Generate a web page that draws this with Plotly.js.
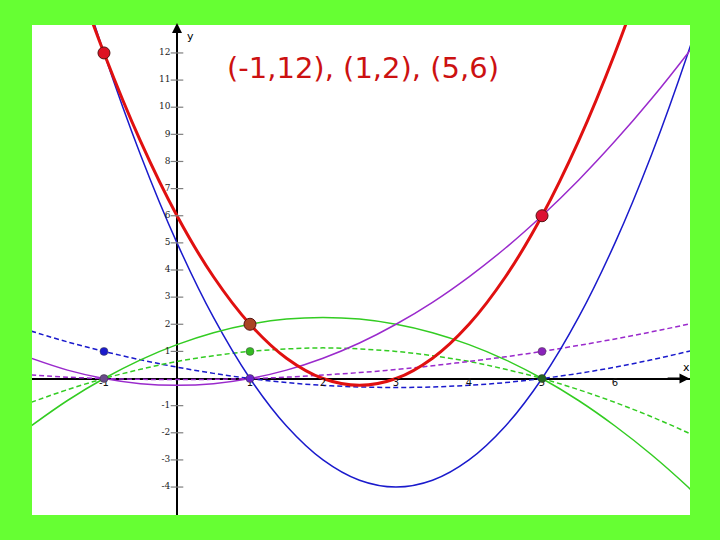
<!DOCTYPE html>
<html>
<head>
<meta charset="utf-8">
<script src="https://cdn.plot.ly/plotly-3.0.1.min.js"></script>
<style>html,body{margin:0;padding:0;background:#66ff33;}</style>
</head>
<body>
<div id="chart" style="width:720px;height:540px;"></div>
<script>
// sample x positions
const xs = [-2, -1.5, -1, -0.5, 0, 0.5, 1, 1.5, 2, 2.5, 3, 3.5, 4, 4.5, 5, 5.5, 6, 6.5, 7, 7.5];
// interpolating parabola through the three points
const redCurve = [20, 15.75, 12, 8.75, 6, 3.75, 2, 0.75, 0, -0.25, 0, 0.75, 2, 3.75, 6, 8.75, 12, 15.75, 20, 24.75];
// weighted basis curves (solid) and basis curves (dashed)
const blueSolid = [21, 16.25, 12, 8.25, 5, 2.25, 0, -1.75, -3, -3.75, -4, -3.75, -3, -1.75, 0, 2.25, 5, 8.25, 12, 16.25];
const blueDash = [1.75, 1.35, 1, 0.69, 0.42, 0.19, 0, -0.15, -0.25, -0.31, -0.33, -0.31, -0.25, -0.15, 0, 0.19, 0.42, 0.69, 1, 1.35];
const greenSolid = [-1.75, -0.81, 0, 0.69, 1.25, 1.69, 2, 2.19, 2.25, 2.19, 2, 1.69, 1.25, 0.69, 0, -0.81, -1.75, -2.81, -4, -5.31];
const greenDash = [-0.88, -0.41, 0, 0.34, 0.63, 0.84, 1, 1.09, 1.13, 1.09, 1, 0.84, 0.63, 0.34, 0, -0.41, -0.88, -1.41, -2, -2.66];
const purpleSolid = [0.75, 0.31, 0, -0.19, -0.25, -0.19, 0, 0.31, 0.75, 1.31, 2, 2.81, 3.75, 4.81, 6, 7.31, 8.75, 10.31, 12, 13.81];
const purpleDash = [0.13, 0.05, 0, -0.03, -0.04, -0.03, 0, 0.05, 0.13, 0.22, 0.33, 0.47, 0.63, 0.8, 1, 1.22, 1.46, 1.72, 2, 2.3];

// data points
const ptX = [-1, 1, 5];
const ptY = [12, 2, 6];
const unitX = [-1, 1, 5];
const unitY = [1, 1, 1];
const unitColors = ['#1a1acc', '#33bb22', '#8a22bb'];
const zeroColors = ['#6a4a8a', '#6a22cc', '#226622'];

// tick labels
const xTickVals = [-1, 1, 2, 3, 4, 5, 6];
const xTickText = ['-1', '1', '2', '3', '4', '5', '6'];
const yTickVals = [12, 11, 10, 9, 8, 7, 6, 5, 4, 3, 2, 1, -1, -2, -3, -4];
const yTickText = ['12', '11', '10', '9', '8', '7', '6', '5', '4', '3', '2', '1', '-1', '-2', '-3', '-4'];

const titleText = '(-1,12), (1,2), (5,6)';

const BLUE = '#1a1acc', GREEN = '#33cc22', PURPLE = '#9a2acc', RED = '#e01010';

function curve(y, color, dash, width) {
  return {x: xs, y: y, mode: 'lines', type: 'scatter', hoverinfo: 'skip',
    line: {color: color, width: width, dash: dash, shape: 'spline', smoothing: 1}};
}

const traces = [
  curve(blueDash, BLUE, '5px,3px', 1.5),
  curve(greenDash, GREEN, '5px,3px', 1.5),
  curve(purpleDash, PURPLE, '5px,3px', 1.5),
  curve(blueSolid, BLUE, 'solid', 1.5),
  curve(greenSolid, GREEN, 'solid', 1.5),
  curve(purpleSolid, PURPLE, 'solid', 1.5),
  curve(redCurve, RED, 'solid', 3),
  // y tick marks
  {x: yTickVals.map(() => 0), y: yTickVals, mode: 'markers+text', type: 'scatter',
   marker: {symbol: 'line-ew-open', size: 9, line: {color: '#000', width: 1.2}},
   text: yTickText, textposition: 'middle left',
   textfont: {family: 'DejaVu Serif', size: 9, color: '#222'}, hoverinfo: 'skip'},
  // x tick labels
  {x: xTickVals, y: xTickVals.map(() => 0), mode: 'text', type: 'scatter',
   text: xTickText, textposition: 'bottom center',
   textfont: {family: 'DejaVu Sans', size: 10, color: '#111'}, hoverinfo: 'skip'},
  // unit points
  {x: unitX, y: unitY, mode: 'markers', type: 'scatter',
   marker: {size: 8, color: unitColors, line: {color: '#444', width: 0.5}}},
  // zero points
  {x: ptX, y: ptX.map(() => 0), mode: 'markers', type: 'scatter',
   marker: {size: 8, color: zeroColors, line: {color: '#333', width: 0.5}}},
  // data points
  {x: ptX, y: ptY, mode: 'markers', type: 'scatter',
   marker: {size: 12, color: ['#dd1122', '#aa4422', '#dd1133'], line: {color: '#551111', width: 1}}}
];

const layout = {
  width: 720, height: 540,
  paper_bgcolor: '#66ff33', plot_bgcolor: '#ffffff',
  margin: {l: 32, r: 30, t: 25, b: 25},
  showlegend: false,
  xaxis: {range: [-1.986, 7.027], showgrid: false, showticklabels: false, ticks: '',
    zeroline: true, zerolinecolor: '#000', zerolinewidth: 2, fixedrange: true},
  yaxis: {range: [-5.03, 13.03], showgrid: false, showticklabels: false, ticks: '',
    zeroline: true, zerolinecolor: '#000', zerolinewidth: 2, fixedrange: true},
  annotations: [
    {x: 7.02, y: 0, ax: 6.7, ay: 0, axref: 'x', ayref: 'y', xref: 'x', yref: 'y',
     showarrow: true, arrowhead: 2, arrowsize: 1, arrowwidth: 2, arrowcolor: '#000', text: ''},
    {x: 0, y: 13.1, ax: 0, ay: 12.5, axref: 'x', ayref: 'y', xref: 'x', yref: 'y',
     showarrow: true, arrowhead: 2, arrowsize: 1, arrowwidth: 2, arrowcolor: '#000', text: ''},
    {x: 6.98, y: 0, xref: 'x', yref: 'y', yshift: 11, showarrow: false, text: 'x',
     font: {family: 'DejaVu Sans', size: 11, color: '#000'}},
    {x: 0.18, y: 12.6, xref: 'x', yref: 'y', showarrow: false, text: 'y',
     font: {family: 'DejaVu Sans', size: 11, color: '#000'}},
    {x: 0.503, y: 0.912, xref: 'paper', yref: 'paper', xanchor: 'center', yanchor: 'middle',
     showarrow: false, text: titleText,
     font: {family: 'DejaVu Sans', size: 29, color: '#cc1111'}}
  ]
};

Plotly.newPlot('chart', traces, layout, {displayModeBar: false, staticPlot: true});
</script>
</body>
</html>
